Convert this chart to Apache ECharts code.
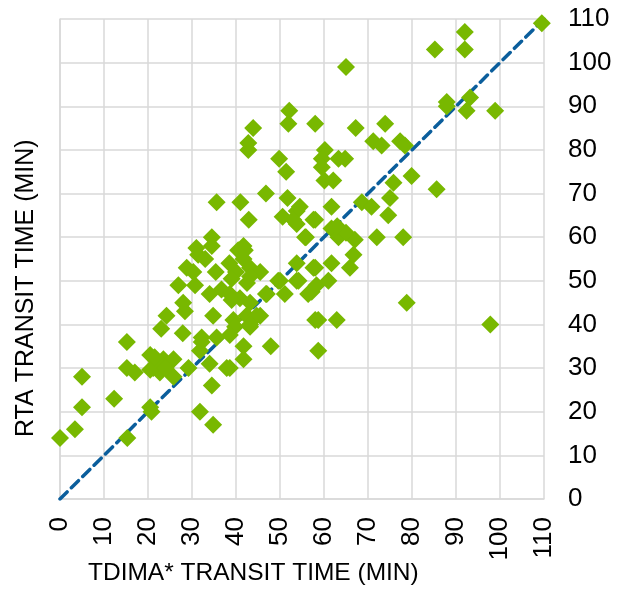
<!DOCTYPE html>
<html>
<head>
<meta charset="utf-8">
<script src="https://cdn.jsdelivr.net/npm/echarts@6/dist/echarts.min.js"></script>
<style>
  html, body { margin: 0; padding: 0; background: #fff; }
  #chart { width: 621px; height: 595px; }
</style>
</head>
<body>
<div id="chart"></div>
<script>
// [TDIMA* minutes, RTA minutes]
const trips = [
  [0,14],[3.4,16],[5,21],[5,28],[12.3,23],[15.2,36],[15.2,30],[17,29],[15.3,14],[20.5,21],[20.8,20],
  [20.5,33],[21.2,30],[22.7,29],[20.5,29.6],[23.5,32],[25.8,32],[25.8,28],[22,31],[24,30],[21.5,32.5],
  [24.2,42],[23,39],[27.9,38],[28.4,43],[28,45],[29.2,30],[32.2,36],[31.8,34],[35.6,37],[34,31],[34.5,26],
  [31.8,20],[34.8,17],[34.8,42],[37.9,30],
  [26.9,49],[30.7,49],[28.8,53],[30.3,52],[35.4,52],[31.4,56],[33,55],[34.5,60],[34.5,58],[31,57.5],
  [35.6,68],[41,68],
  [36.7,48],[34,47],[38.6,47],[40.9,46],[43.2,45],[39,45.6],[39.4,41],[42.4,42],[45.5,42],[39.8,39.5],
  [43.2,39.5],[32.2,37],[38.6,37.6],
  [40.5,57],[42,57],[41.7,55],[43.2,53],[45.5,52],[43.2,51],[41.7,58],[38.5,54],[40,52],[39,50.5],[42.5,49.5],
  [47,47],[49.6,50],[51.1,47],[53.8,50],[56.4,47],[58.3,49],[58,41],[53.8,54],[57.6,53],[50,50],[46.8,47],
  [44.7,42],[43.2,40],[47.9,35],[41.7,35],[41.7,32],[38.6,30],[58.7,34],[58.7,41],[62.9,41],[78.8,45],
  [61,50],[54.2,50],[57.2,47.5],
  [61.7,54],[65.9,53],[66.7,56],[58,53],
  [42.9,64],[46.8,70],[51.7,69],[50.6,64.7],[53.8,66],[53.8,63],[57.6,64],[55.9,60],[53,64],[58,64],[54.5,67],
  [61.7,67],[61.7,62],[63.3,60],[67,59.4],[55.7,60],[72,60],[78,60],[65,61],[63,62.5],
  [68.6,68],[70.8,67],[74.6,65],[75,69],[75.8,72.5],[79.9,74],[85.6,71],
  [51.4,75],[49.8,78],[42.8,80],[42.8,81.6],[43.9,85],[52.1,89],[51.9,86],[58,86],[67.2,85],[73.9,86],
  [71.2,82],[73.1,81],[77.3,82],[78.4,81],
  [60.2,80],[59.5,78],[63.3,78],[64.8,78],[59.5,76],[60.1,73],[62.1,73],[65,99],
  [85.2,103],[92,107],[92,103],[87.9,91],[87.9,90],[93.2,92],[92.4,89],[98.9,89],[109.5,109],[97.8,40]
];

// 1:1 reference line
const parityLine = [[0, 0], [110, 110]];

const axisMin = 0;
const axisMax = 110;
const tickStep = 10;

const xTitle = 'TDIMA* TRANSIT TIME (MIN)';
const yTitle = 'RTA TRANSIT TIME (MIN)';

const font = 'Liberation Sans, Arial, sans-serif';
const gridColor = '#d9d9d9';

let mycharts = echarts.init(document.getElementById('chart'));
mycharts.setOption({
  animation: false,
  grid: {
    left: 60,
    right: 77,
    top: 19,
    bottom: 96
  },
  xAxis: {
    type: 'value',
    min: axisMin,
    max: axisMax,
    interval: tickStep,
    axisLine: { show: true, lineStyle: { color: gridColor, width: 1.5 } },
    axisTick: { show: false },
    splitLine: { show: true, lineStyle: { color: gridColor, width: 1.5 } },
    axisLabel: {
      rotate: 90,
      margin: 18,
      color: '#000',
      fontSize: 26,
      fontFamily: font
    }
  },
  yAxis: {
    type: 'value',
    position: 'right',
    min: axisMin,
    max: axisMax,
    interval: tickStep,
    axisLine: { show: true, lineStyle: { color: gridColor, width: 1.5 } },
    axisTick: { show: false },
    splitLine: { show: true, lineStyle: { color: gridColor, width: 1.5 } },
    axisLabel: {
      margin: 24,
      color: '#000',
      fontSize: 26,
      fontFamily: font
    }
  },
  graphic: [
    {
      type: 'text',
      left: 88,
      top: 561,
      style: { text: xTitle, fontSize: 24.5, fontFamily: font, fill: '#000' }
    },
    {
      type: 'text',
      x: 14,
      y: 437,
      rotation: Math.PI / 2,
      style: { text: yTitle, fontSize: 25, fontFamily: font, fill: '#000' }
    }
  ],
  series: [
    {
      type: 'line',
      data: parityLine,
      symbol: 'none',
      z: 1,
      lineStyle: { color: '#0b5e9c', width: 3.5, type: [10, 6], cap: 'round' }
    },
    {
      type: 'scatter',
      data: trips,
      symbol: 'diamond',
      symbolSize: 18,
      z: 2,
      itemStyle: { color: '#78b800', opacity: 1 }
    }
  ]
});
</script>
</body>
</html>
